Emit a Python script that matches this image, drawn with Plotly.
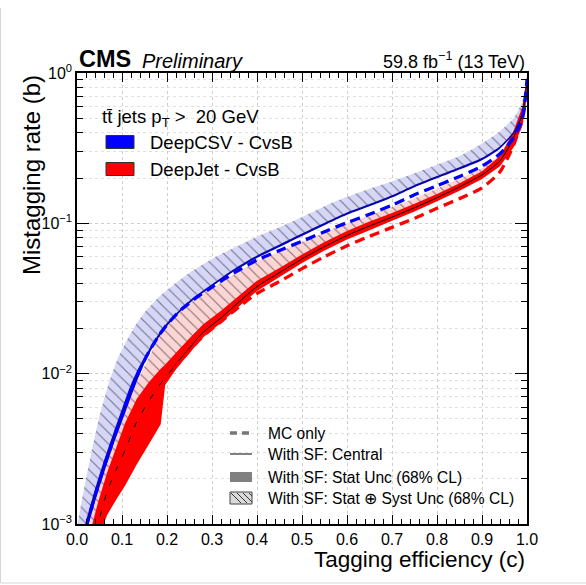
import plotly.graph_objects as go

# ---------------- data ----------------
# DeepCSV - CvsB
csv_eff = [0.02, 0.04, 0.06, 0.08, 0.10, 0.12, 0.14, 0.16, 0.18, 0.20, 0.23, 0.26, 0.30, 0.35,
           0.40, 0.45, 0.50, 0.55, 0.60, 0.65, 0.70, 0.75, 0.80, 0.85, 0.90, 0.94, 0.97, 0.99, 1.0]
csv_mc = [0.00095, 0.00155, 0.0024, 0.0036, 0.0053, 0.0077, 0.0107, 0.0140, 0.0176, 0.0212,
          0.0264, 0.0312, 0.0377, 0.047, 0.057, 0.066, 0.076, 0.088, 0.101, 0.115, 0.132, 0.155,
          0.178, 0.205, 0.240, 0.29, 0.37, 0.50, 0.90]
csv_central = [0.00095, 0.00155, 0.0024, 0.0036, 0.0053, 0.0077, 0.0107, 0.0140, 0.0176, 0.0212,
               0.0264, 0.0317, 0.0387, 0.049, 0.060, 0.071, 0.084, 0.099, 0.116, 0.132, 0.151,
               0.177, 0.203, 0.232, 0.268, 0.32, 0.40, 0.53, 0.90]
csv_stat_up = [0.00105, 0.0017, 0.00264, 0.00396, 0.00583, 0.0085, 0.0114, 0.0145, 0.0181,
               0.0217, 0.0269, 0.0323, 0.0394, 0.0499, 0.0611, 0.0723, 0.0855, 0.1008, 0.1181,
               0.1344, 0.1538, 0.1802, 0.2067, 0.2362, 0.2729, 0.326, 0.407, 0.54, 0.91]
csv_stat_dn = [0.00086, 0.0014, 0.00218, 0.0033, 0.0048, 0.0070, 0.0100, 0.0135, 0.0171,
               0.0207, 0.0259, 0.0311, 0.0380, 0.0481, 0.0589, 0.0697, 0.0825, 0.0972, 0.1139,
               0.1297, 0.1483, 0.1738, 0.1993, 0.2278, 0.2631, 0.314, 0.393, 0.52, 0.89]
csv_syst_eff = [0.0, 0.01, 0.02, 0.03, 0.05, 0.07, 0.09, 0.11, 0.13, 0.15, 0.18, 0.20, 0.25,
                0.30, 0.35, 0.40, 0.45, 0.50, 0.55, 0.60, 0.65, 0.70, 0.75, 0.80, 0.85, 0.90,
                0.94, 0.97, 0.99, 1.0]
csv_syst_up = [0.00095, 0.0014, 0.0020, 0.0028, 0.0052, 0.0085, 0.0125, 0.0165, 0.0210, 0.0255,
               0.032, 0.036, 0.047, 0.058, 0.069, 0.0815, 0.094, 0.110, 0.130, 0.150, 0.170,
               0.190, 0.215, 0.245, 0.280, 0.340, 0.41, 0.50, 0.65, 0.95]

# DeepJet - CvsB
dj_eff = [0.03, 0.047, 0.067, 0.09, 0.107, 0.133, 0.16, 0.186, 0.196, 0.22, 0.25, 0.28, 0.32,
          0.36, 0.40, 0.45, 0.50, 0.55, 0.60, 0.65, 0.70, 0.75, 0.80, 0.85, 0.90, 0.94, 0.97,
          0.99, 1.0]
dj_central = [0.0006, 0.001, 0.00165, 0.0024, 0.0031, 0.0048, 0.0066, 0.0086, 0.0093, 0.0116,
              0.0148, 0.0188, 0.0235, 0.030, 0.038, 0.047, 0.058, 0.070, 0.083, 0.096, 0.110,
              0.127, 0.148, 0.175, 0.21, 0.26, 0.37, 0.55, 0.85]
dj_mc = [0.0006, 0.001, 0.00165, 0.0024, 0.0031, 0.0047, 0.0065, 0.0085, 0.0091, 0.0112,
         0.0142, 0.0178, 0.0222, 0.0278, 0.0342, 0.041, 0.050, 0.060, 0.071, 0.082, 0.094, 0.108,
         0.126, 0.146, 0.172, 0.22, 0.33, 0.50, 0.80]
dj_stat_up = [0.0009, 0.0014, 0.0022, 0.0034, 0.0047, 0.0068, 0.0088, 0.0108, 0.0115, 0.0138,
              0.0172, 0.0212, 0.0262, 0.033, 0.0415, 0.0505, 0.062, 0.075, 0.089, 0.103, 0.117,
              0.135, 0.157, 0.185, 0.222, 0.28, 0.41, 0.60, 0.95]
dj_stat_dn = [0.0004, 0.0008, 0.00115, 0.0015, 0.0018, 0.0025, 0.0034, 0.0046, 0.0084, 0.0107,
              0.0137, 0.0174, 0.0218, 0.028, 0.0355, 0.044, 0.0545, 0.066, 0.078, 0.090, 0.104,
              0.120, 0.140, 0.165, 0.197, 0.24, 0.32, 0.45, 0.70]
dj_syst_up = [0.0013, 0.0018, 0.0026, 0.0040, 0.0055, 0.0088, 0.0128, 0.0186, 0.0201, 0.0241,
              0.0292, 0.0342, 0.0402, 0.048, 0.056, 0.065, 0.075, 0.087, 0.100, 0.113, 0.128,
              0.147, 0.170, 0.197, 0.233, 0.285, 0.37, 0.50, 0.85]

x_ticks = [0.0, 0.1, 0.2, 0.3, 0.4, 0.5, 0.6, 0.7, 0.8, 0.9, 1.0]
y_ticks = [1e-3, 1e-2, 1e-1, 1]
y_ticktext = ["10<sup>−3</sup>", "10<sup>−2</sup>", "10<sup>−1</sup>", "10<sup>0</sup>"]
y_minor = [2e-3, 3e-3, 4e-3, 5e-3, 6e-3, 7e-3, 8e-3, 9e-3,
           2e-2, 3e-2, 4e-2, 5e-2, 6e-2, 7e-2, 8e-2, 9e-2,
           2e-1, 3e-1, 4e-1, 5e-1, 6e-1, 7e-1, 8e-1, 9e-1]

tagger_names = ["DeepCSV - CvsB", "DeepJet - CvsB"]
style_names = ["MC only", "With SF: Central", "With SF: Stat Unc (68% CL)",
               "With SF: Stat ⊕ Syst Unc (68% CL)"]

FONT = "Liberation Sans, Arial, Helvetica, sans-serif"
BLUE = "#0000ff"
RED = "#ff0000"
LAVENDER = "rgb(214,214,248)"
PINK = "rgb(252,213,213)"
HATCH = "#111111"
SMOOTH = dict(shape="spline", smoothing=0.6)

# page geometry (pixels)
W, H = 586, 585
L, R, T, B = 77, 59, 73, 61
PW, PH = W - L - R, H - T - B


def px(x):
    return (x - L) / PW


def py(y):
    return (H - B - y) / PH


def band(xs, lo, hi):
    return list(xs) + list(xs)[::-1], list(lo) + list(hi)[::-1]


fig = go.Figure()

# DeepCSV syst band: between DeepCSV central and its upper edge
bx = csv_syst_eff + csv_eff[::-1]
by = csv_syst_up + csv_central[::-1]
fig.add_trace(go.Scatter(x=bx, y=by, fill="toself", mode="none", fillcolor=LAVENDER,
                         line=SMOOTH,
                         fillpattern=dict(shape="\\", bgcolor=LAVENDER, fgcolor=HATCH,
                                          size=8, solidity=0.14),
                         showlegend=False, hoverinfo="skip"))
# DeepJet syst band: between DeepJet central and its upper edge
bx, by = band(dj_eff, dj_central, dj_syst_up)
fig.add_trace(go.Scatter(x=bx, y=by, fill="toself", mode="none", fillcolor=PINK,
                         line=SMOOTH,
                         fillpattern=dict(shape="\\", bgcolor=PINK, fgcolor=HATCH,
                                          size=8, solidity=0.14),
                         showlegend=False, hoverinfo="skip"))
# DeepJet stat band + central + MC
bx, by = band(dj_eff, dj_stat_dn, dj_stat_up)
fig.add_trace(go.Scatter(x=bx, y=by, fill="toself", mode="none", fillcolor=RED,
                         showlegend=False, hoverinfo="skip"))
fig.add_trace(go.Scatter(x=dj_eff, y=dj_central, mode="lines",
                         line=dict(color="black", width=1, **SMOOTH), showlegend=False,
                         hoverinfo="skip"))
fig.add_trace(go.Scatter(x=dj_eff, y=dj_mc, mode="lines",
                         line=dict(color=RED, width=3.3, dash="10px,6px", **SMOOTH),
                         showlegend=False, hoverinfo="skip"))
# DeepCSV stat band + central + MC
bx, by = band(csv_eff, csv_stat_dn, csv_stat_up)
fig.add_trace(go.Scatter(x=bx, y=by, fill="toself", mode="none", fillcolor=BLUE,
                         line=SMOOTH, showlegend=False, hoverinfo="skip"))
fig.add_trace(go.Scatter(x=csv_eff, y=csv_central, mode="lines",
                         line=dict(color="#15154a", width=1, **SMOOTH), showlegend=False,
                         hoverinfo="skip"))
fig.add_trace(go.Scatter(x=csv_eff, y=csv_mc, mode="lines",
                         line=dict(color=BLUE, width=3.3, dash="10px,6px", **SMOOTH),
                         showlegend=False, hoverinfo="skip"))

shapes = []
annotations = []

# ---- legend 1 (taggers), drawn by hand ----
annotations.append(dict(text="tt\u0304 jets p<sub>T</sub> >  20 GeV", x=px(100), y=py(118),
                        xanchor="left", yanchor="middle", font=dict(size=18.5, family=FONT)))
for name, col, yc in zip(tagger_names, [BLUE, RED], [142, 169]):
    shapes.append(dict(type="rect", xref="paper", yref="paper", x0=px(106), x1=px(134),
                       y0=py(yc - 6.5), y1=py(yc + 6.5), fillcolor=col,
                       line=dict(color="#333333", width=1)))
    annotations.append(dict(text=name, x=px(148), y=py(yc), xanchor="left", yanchor="middle",
                            font=dict(size=18.5, family=FONT)))

# ---- legend 2 (styles), drawn by hand ----
rows = [433, 454, 477, 498]
sx0, sx1 = 230, 252
shapes.append(dict(type="line", xref="paper", yref="paper", x0=px(sx0), x1=px(sx1),
                   y0=py(rows[0]), y1=py(rows[0]), line=dict(color="#777777", width=3.3,
                                                             dash="7px,5px")))
shapes.append(dict(type="line", xref="paper", yref="paper", x0=px(sx0), x1=px(sx1),
                   y0=py(rows[1]), y1=py(rows[1]), line=dict(color="black", width=1)))
shapes.append(dict(type="rect", xref="paper", yref="paper", x0=px(sx0), x1=px(sx1),
                   y0=py(rows[2] + 5), y1=py(rows[2] - 5), fillcolor="#808080",
                   line=dict(width=0)))
shapes.append(dict(type="rect", xref="paper", yref="paper", x0=px(sx0), x1=px(sx1),
                   y0=py(rows[3] + 6), y1=py(rows[3] - 6), fillcolor="#dadada",
                   line=dict(color="#444444", width=1)))
for k in range(4):
    xa = sx0 + 1 + k * 6
    xb = min(xa + 10, sx1)
    shapes.append(dict(type="line", xref="paper", yref="paper", x0=px(xa), y0=py(rows[3] - 5),
                       x1=px(xb), y1=py(rows[3] - 5 + (xb - xa)),
                       line=dict(color="#333333", width=1)))
for name, yc in zip(style_names, rows):
    annotations.append(dict(text=name, x=px(266), y=py(yc), xanchor="left", yanchor="middle",
                            font=dict(size=15.6, family=FONT)))

# ---- header / axis titles ----
annotations += [
    dict(text="<b>CMS</b>", x=0, y=1, xanchor="left", yanchor="bottom", yshift=-1,
         font=dict(size=23.5, family=FONT)),
    dict(text="<i>Preliminary</i>", x=px(140), y=1, xanchor="left", yanchor="bottom",
         yshift=-1, font=dict(size=20, family=FONT)),
    dict(text="59.8 fb<sup>−1</sup> (13 TeV)", x=1, y=1, xanchor="right", yanchor="bottom",
         yshift=-1, font=dict(size=18, family=FONT)),
    dict(text="Tagging efficiency (c)", x=1, y=py(559), xanchor="right", yanchor="middle",
         font=dict(size=22.5, family=FONT)),
    dict(text="Mistagging rate (b)", x=px(31), y=1, xanchor="center", yanchor="top",
         textangle=-90, font=dict(size=24, family=FONT)),
]
for a in annotations:
    a.update(xref="paper", yref="paper", showarrow=False)

# faint frame of the picture (left and bottom)
shapes.append(dict(type="line", xref="paper", yref="paper", x0=px(0.5), x1=px(0.5),
                   y0=py(583), y1=py(8), line=dict(color="#d6d6d6", width=1)))
shapes.append(dict(type="line", xref="paper", yref="paper", x0=px(0.5), x1=px(586),
                   y0=py(583), y1=py(583), line=dict(color="#d6d6d6", width=1)))

axis_common = dict(showline=True, linecolor="black", linewidth=1.5, mirror="allticks",
                   ticks="inside", tickcolor="black", gridcolor="#cdcdcd", griddash="dot",
                   gridwidth=1, zeroline=False,
                   tickfont=dict(family=FONT, size=16, color="black"))

fig.update_xaxes(range=[0, 1], tickvals=x_ticks, tickformat=".1f", ticklen=9,
                 minor=dict(dtick=0.02, ticks="inside", ticklen=5, showgrid=False,
                            tickcolor="black"),
                 **axis_common)
fig.update_yaxes(type="log", range=[-3, 0], tickvals=y_ticks, ticktext=y_ticktext,
                 ticklen=12,
                 minor=dict(tickmode="array", tickvals=y_minor, ticks="inside", ticklen=6,
                            tickcolor="black", showgrid=True, gridcolor="#e0e0e0",
                            griddash="dot"),
                 **axis_common)

fig.update_layout(
    width=W, height=H,
    margin=dict(l=L, r=R, t=T, b=B),
    paper_bgcolor="white", plot_bgcolor="white",
    font=dict(family=FONT, color="black"),
    showlegend=False,
    shapes=shapes,
    annotations=annotations,
)

fig.write_html("out.html")
